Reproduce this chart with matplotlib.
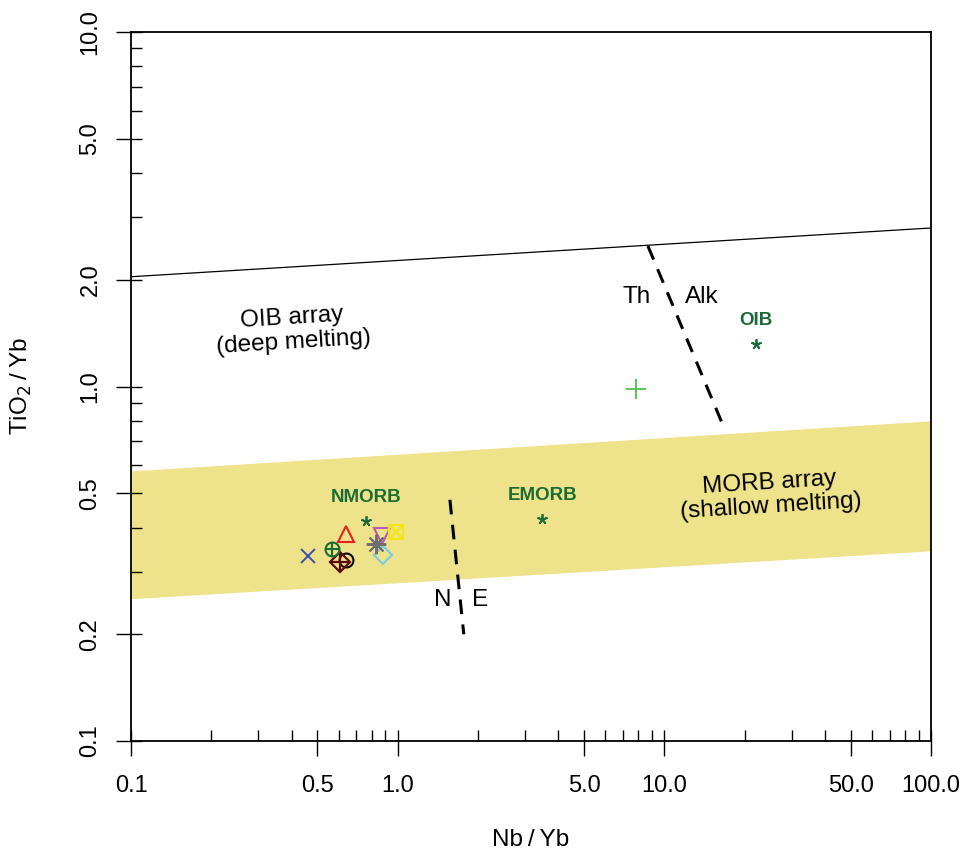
import numpy as np
import matplotlib
matplotlib.use("Agg")
import matplotlib.pyplot as plt
from matplotlib.ticker import FixedLocator, NullFormatter

plt.rcParams['font.family'] = ['Liberation Sans', 'DejaVu Sans']

# ---- data ----
# OIB / MORB boundary line (Nb/Yb, TiO2/Yb)
oib_line_x = [0.1, 100.0]
oib_line_y = [2.04, 2.80]
# MORB array band
morb_x = [0.1, 100.0]
morb_top = [0.578, 0.80]
morb_bot = [0.252, 0.344]
# Th / Alk divide
thalk_x = [8.68, 16.4]
thalk_y = [2.49, 0.794]
# N / E divide
ne_x = [1.57, 1.77]
ne_y = [0.479, 0.200]

# reference compositions
ref_names = ["NMORB", "EMORB", "OIB"]
ref_x = [0.761, 3.48, 22.1]
ref_y = [0.417, 0.423, 1.318]

# samples
sample_x = [0.640, 0.638, 7.83, 0.462, 0.883, 0.871, 0.983, 0.827, 0.608, 0.569]
sample_y = [0.324, 0.384, 0.984, 0.3326, 0.335, 0.379, 0.389, 0.359, 0.3206, 0.348]
sample_pch = [1, 2, 3, 4, 5, 6, 7, 8, 9, 10]
sample_col = ["#000000", "#E8201E", "#4CC24C", "#3B4DA8", "#76CDE8",
              "#B757B7", "#F2E614", "#6E6E6E", "#5C0A0A", "#1B6B35"]

xticks = [0.1, 0.5, 1.0, 5.0, 10.0, 50.0, 100.0]
xticklabels = ["0.1", "0.5", "1.0", "5.0", "10.0", "50.0", "100.0"]
yticks = [0.1, 0.2, 0.5, 1.0, 2.0, 5.0, 10.0]
yticklabels = ["0.1", "0.2", "0.5", "1.0", "2.0", "5.0", "10.0"]

fig = plt.figure(figsize=(9.62, 8.56), dpi=100)
ax = fig.add_axes([131/962, 1-741/856, 800/962, 709/856])
ax.set_xscale('log')
ax.set_yscale('log')
ax.set_xlim(0.1, 100)
ax.set_ylim(0.1, 10)

green = "#1B6B35"
afs = 17.5

ax.fill_between(morb_x, morb_bot, morb_top, color="#EEE38A", lw=0, zorder=1)
ax.plot(oib_line_x, oib_line_y, color="black", lw=0.9, zorder=2)
ax.plot(thalk_x, thalk_y, color="black", lw=2.2, ls=(0, (4.8, 3.4)), zorder=2)
ax.plot(ne_x, ne_y, color="black", lw=2.2, ls=(0, (4.8, 3.4)), zorder=2)

ax.text(0.405, 1.443, "OIB array\n(deep melting)", fontsize=afs, ha='center',
        va='center', rotation=3.5, rotation_mode='anchor', linespacing=1.1)
ax.text(24.9, 0.494, "MORB array\n(shallow melting)", fontsize=afs, ha='center',
        va='center', rotation=3.5, rotation_mode='anchor', linespacing=1.1)
ax.text(7.89, 1.789, "Th", fontsize=afs, ha='center', va='center')
ax.text(13.8, 1.789, "Alk", fontsize=afs, ha='center', va='center')
ax.text(1.48, 0.25, "N", fontsize=afs, ha='center', va='center')
ax.text(2.03, 0.25, "E", fontsize=afs, ha='center', va='center')

for nm, xv, yv in zip(ref_names, ref_x, ref_y):
    ax.plot([xv], [yv], marker=(5, 2, 0), ms=7.5, mew=1.3, color=green, ls='none', zorder=4)
    ax.annotate(nm, (xv, yv), xytext=(0, 11), textcoords='offset points',
                ha='center', va='bottom', fontsize=13.5, fontweight='bold', color=green)

def draw_pch(x, y, pch, col):
    kw = dict(ls='none', mfc='none', mec=col, color=col, zorder=5)
    if pch == 1:
        ax.plot([x], [y], marker='o', ms=10, mew=1.5, **kw)
    elif pch == 2:
        ax.plot([x], [y], marker='^', ms=12, mew=1.5, **kw)
    elif pch == 3:
        ax.plot([x], [y], marker='+', ms=14, mew=1.3, **kw)
    elif pch == 4:
        ax.plot([x], [y], marker='x', ms=10, mew=1.4, **kw)
    elif pch == 5:
        ax.plot([x], [y], marker='D', ms=9, mew=1.5, **kw)
    elif pch == 6:
        ax.plot([x], [y], marker='v', ms=12, mew=1.5, **kw)
    elif pch == 7:
        ax.plot([x], [y], marker='s', ms=9.5, mew=1.6, **kw)
        ax.plot([x], [y], marker='x', ms=9.5, mew=1.6, **kw)
    elif pch == 8:
        ax.plot([x], [y], marker=(8, 2, 0), ms=14, mew=1.4, **kw)
    elif pch == 9:
        ax.plot([x], [y], marker='D', ms=10, mew=1.6, **kw)
        ax.plot([x], [y], marker='+', ms=14, mew=1.6, **kw)
    elif pch == 10:
        ax.plot([x], [y], marker='o', ms=10, mew=1.5, **kw)
        ax.plot([x], [y], marker='+', ms=10, mew=1.5, **kw)

for xv, yv, p, c in zip(sample_x, sample_y, sample_pch, sample_col):
    draw_pch(xv, yv, p, c)

# ticks
minor_x = [m * 10.0**e for e in (-1, 0, 1) for m in range(1, 10)] + [100.0]
minor_y = [m * 10.0**e for e in (-1, 0) for m in range(1, 10)] + [10.0]
ax.xaxis.set_major_locator(FixedLocator(xticks))
ax.xaxis.set_minor_locator(FixedLocator(minor_x))
ax.yaxis.set_major_locator(FixedLocator(yticks))
ax.yaxis.set_minor_locator(FixedLocator(minor_y))
ax.xaxis.remove_overlapping_locs = False
ax.yaxis.remove_overlapping_locs = False
tfs = 17
ax.set_xticklabels(xticklabels, fontsize=tfs)
ax.set_yticklabels(yticklabels, rotation=90, va='center', fontsize=tfs)
ax.xaxis.set_minor_formatter(NullFormatter())
ax.yaxis.set_minor_formatter(NullFormatter())
ax.tick_params(which='major', direction='out', length=10.8, width=1.0, color='black')
ax.tick_params(axis='x', which='major', pad=14)
ax.tick_params(axis='y', which='major', pad=10.5)
ax.tick_params(which='minor', direction='in', length=8, width=1.0)
for s in ax.spines.values():
    s.set_linewidth(1.3)

ax.set_xlabel("Nb\u2009/\u2009Yb", fontsize=17.5)
ax.set_ylabel("TiO$_2$\u2009/\u2009Yb", fontsize=17.5)
ax.xaxis.label.set_va('center')
ax.xaxis.set_label_coords(0.5, -99/709)
ax.yaxis.label.set_va('center')
ax.yaxis.label.set_ha('center')
ax.yaxis.set_label_coords(-110/800, 0.5)

fig.savefig("out.png", dpi=100)
